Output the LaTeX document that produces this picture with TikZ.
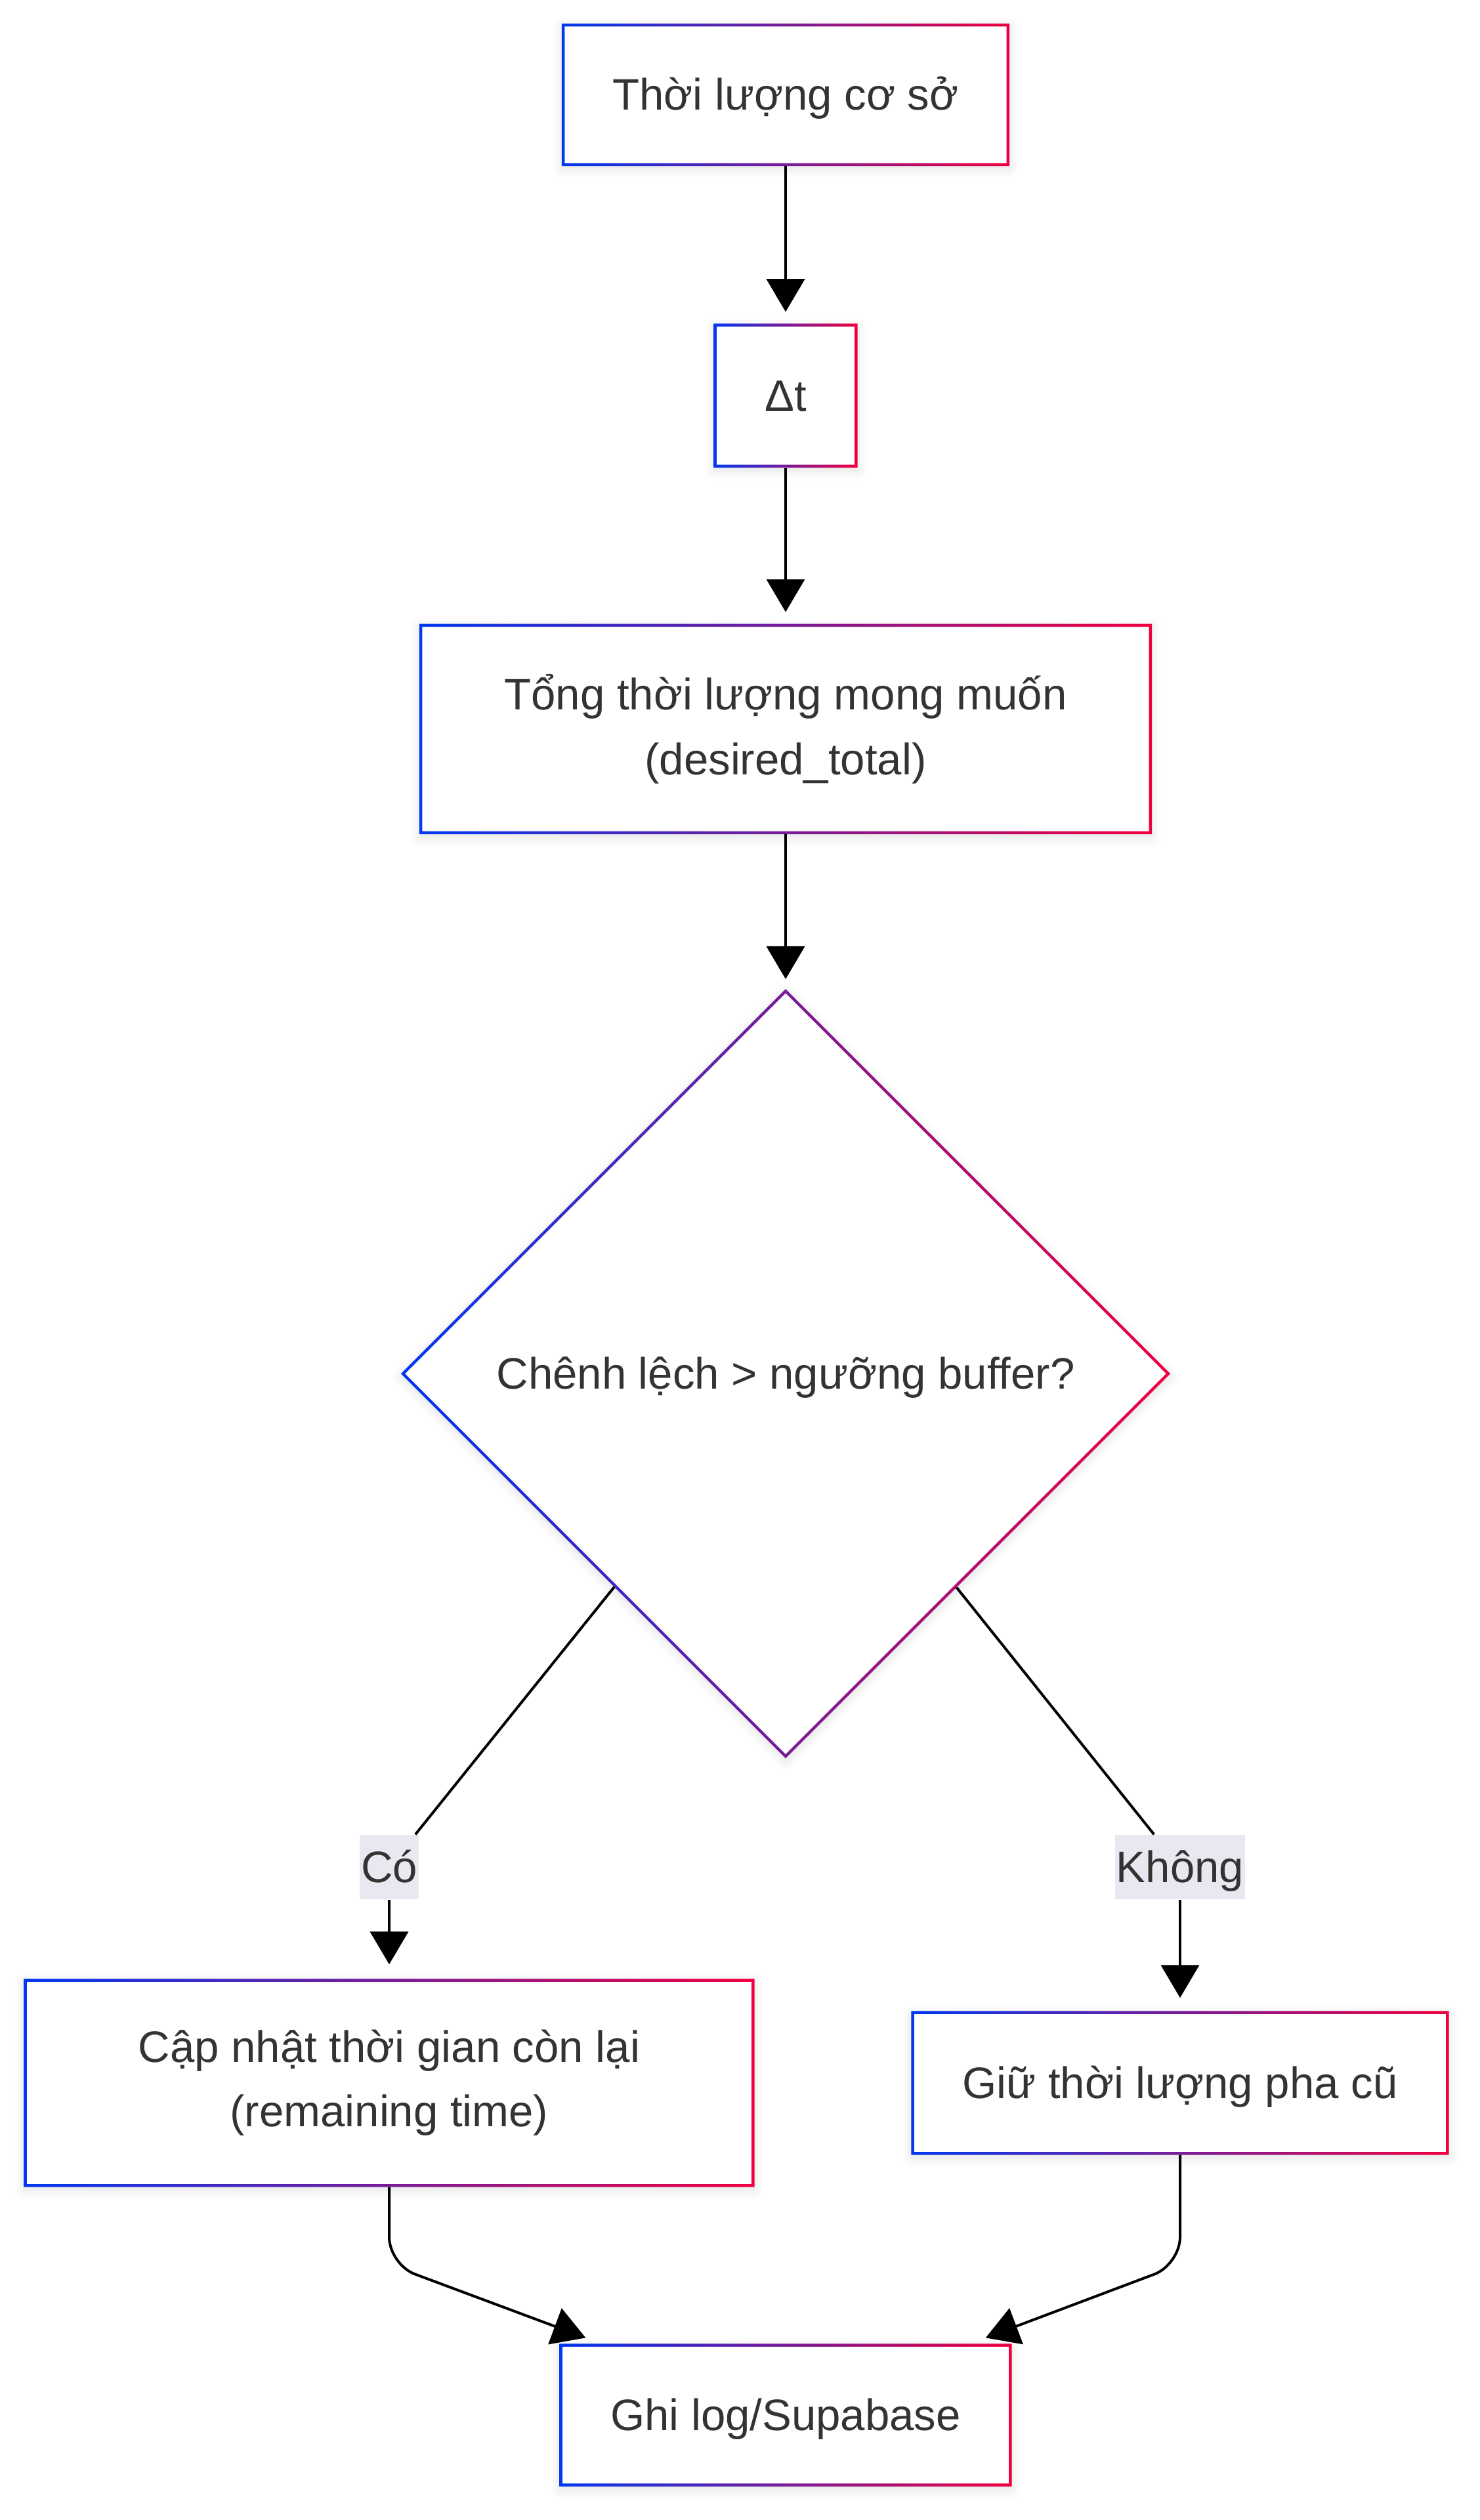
\documentclass[tikz,border=0pt]{standalone}
\usepackage{fontspec}
\setmainfont{Liberation Sans}
\usetikzlibrary{positioning,calc}
\usetikzlibrary{arrows.meta}
\usetikzlibrary{shapes.geometric,shadows.blur}
\definecolor{gradblue}{RGB}{0,56,240}
\definecolor{gradred}{RGB}{240,0,64}
\definecolor{textgray}{RGB}{51,51,51}
\definecolor{labelbg}{RGB}{232,232,240}
\tikzset{
        nodefont/.style={text=textgray, font=\fontsize{19.1}{28}\selectfont},
        % single text line, centred like a browser line box
        oneline/.style={text height=17.3pt, text depth=4.05pt},
        % Process boxes
        procbox/.style={nodefont, rectangle, align=center, fill=white, inner sep=0pt, minimum height=2.16cm,
                blur shadow={shadow xshift=0pt, shadow yshift=-0.05cm, shadow blur radius=0.15cm, shadow opacity=12}},
        % Decision node
        decbox/.style={nodefont, oneline, diamond, aspect=1, align=center, fill=white, inner sep=0pt,
                minimum width=11.71cm, minimum height=11.71cm,
                blur shadow={shadow xshift=0pt, shadow yshift=-0.05cm, shadow blur radius=0.15cm, shadow opacity=12}},
        % Edge labels
        edgelabel/.style={nodefont, oneline, fill=labelbg, inner xsep=0.02cm, inner ysep=0pt, minimum height=0.98cm},
        flow/.style={line width=0.04cm, black}
}
\begin{document}
\begin{tikzpicture}[
            >={Triangle[length=0.5cm, width=0.58cm]}
        ]
            \useasboundingbox (0,0) rectangle (22.54,-38.40);

            \node[procbox, oneline, minimum width=6.81cm] (base) at (11.97,-1.445) {Thời lượng cơ sở};
            \node[procbox, oneline, minimum width=2.18cm, minimum height=2.18cm, below=2.40cm of base] (dt) {Δt};
            \node[procbox, minimum width=11.15cm, minimum height=3.19cm, below=2.38cm of dt] (total)
                {Tổng thời lượng mong muốn\\(desired\_total)};
            \node[decbox, below=2.36cm of total] (dec) {Chênh lệch > ngưỡng buffer?};

            \node[procbox, minimum width=11.12cm, minimum height=3.16cm] (upd) at (5.93,-31.74)
                {Cập nhật thời gian còn lại\\(remaining time)};
            \node[procbox, oneline, minimum width=8.18cm, minimum height=2.18cm] (keep) at (17.98,-31.74) {Giữ thời lượng pha cũ};
            \node[procbox, oneline, minimum width=6.88cm] (log) at (11.97,-36.80) {Ghi log/Supabase};

            \node[edgelabel] (yes) at (5.93,-28.45) {Có};
            \node[edgelabel] (no) at (17.98,-28.45) {Không};

            % gradient borders
            \foreach \n in {base,dt,total,upd,keep,log}
                \shade[even odd rule, left color=gradblue, right color=gradred]
                    (\n.south west) rectangle (\n.north east)
                    ($(\n.south west)+(0.045,0.045)$) rectangle ($(\n.north east)-(0.045,0.045)$);
            \shade[even odd rule, left color=gradblue, right color=gradred]
                (dec.north) -- (dec.east) -- (dec.south) -- (dec.west) -- cycle
                ($(dec.north)+(0,-0.064)$) -- ($(dec.east)+(-0.064,0)$) -- ($(dec.south)+(0,0.064)$) -- ($(dec.west)+(0.064,0)$) -- cycle;

            % connectors
            \draw[flow, ->, shorten >=0.18cm] (base) -- (dt);
            \draw[flow, ->, shorten >=0.18cm] (dt) -- (total);
            \draw[flow, ->, shorten >=0.15cm] (total) -- (dec);
            \draw[flow] (dec) -- (yes);
            \draw[flow, ->, shorten >=0.22cm] (yes) -- (upd);
            \draw[flow] (dec) -- (no);
            \draw[flow, ->, shorten >=0.20cm] (no) -- (keep);
            \draw[flow, ->, rounded corners=0.42cm] (upd.south) -- ++(0,-1.18) -- ($(log.north west)+(0.40,0.09)$);
            \draw[flow, ->, rounded corners=0.42cm] (keep.south) -- ++(0,-1.67) -- ($(log.north east)+(-0.40,0.09)$);
        \end{tikzpicture}
\end{document}
